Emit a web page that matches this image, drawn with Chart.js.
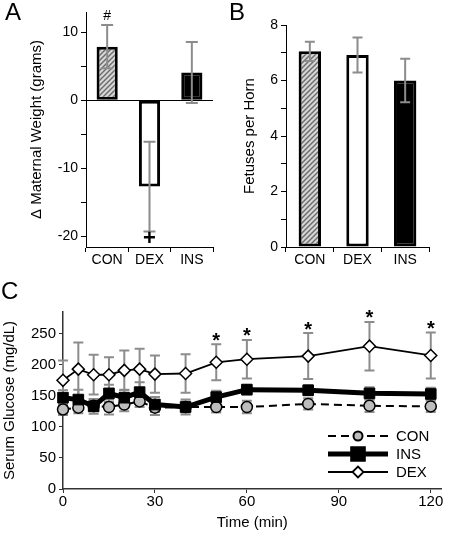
<!DOCTYPE html>
<html>
<head>
<meta charset="utf-8">
<script src="https://cdn.jsdelivr.net/npm/chart.js@4"></script>
<style>
body { margin: 0; background: #fff; }
#wrap { position: relative; width: 450px; height: 533px; }
canvas { position: absolute; }
.lbl { position: absolute; font: 24px "Liberation Sans", Arial, sans-serif; line-height: 24px; color: #000; }
</style>
</head>
<body>
<div id="wrap">
	<canvas id="chartA" width="225" height="270" style="left:0;top:0"></canvas>
	<canvas id="chartB" width="225" height="270" style="left:225px;top:0"></canvas>
	<canvas id="chartC" width="450" height="253" style="left:0;top:280px"></canvas>
	<div class="lbl" style="left:5px;top:0">A</div>
	<div class="lbl" style="left:229px;top:0">B</div>
	<div class="lbl" style="left:1px;top:279px">C</div>
</div>
<script>
// panel A + B
const groups = ['CON', 'DEX', 'INS'];
const weightChange = [7.9, -12.7, 4.1];
const weightErr = [3.2, 6.6, 4.5];
const weightMarks = ['#', '+', ''];
const fetuses = [7.05, 6.92, 6.0];
const fetusesErr = [0.35, 0.63, 0.78];

// panel C
const times = [0, 5, 10, 15, 20, 25, 30, 40, 50, 60, 80, 100, 120];
const glucoseCon = [128, 131, 134, 132, 136, 141, 131, 132, 132, 132, 137, 134, 133];
const glucoseConErr = [9, 9, 8, 12, 11, 9, 12, 9, 9, 10, 9, 10, 9];
const glucoseIns = [147, 144, 133, 154, 147, 156, 136, 132, 148, 160, 159, 154, 153];
const glucoseInsErr = [12, 16, 12, 14, 13, 16, 12, 12, 10, 8, 8, 10, 10];
const glucoseDex = [175, 193, 184, 184, 191, 193, 185, 186, 204, 209, 214, 230, 215];
const glucoseDexErr = [32, 43, 32, 28, 32, 33, 30, 31, 29, 31, 37, 39, 37];
const glucoseMarks = ['', '', '', '', '', '', '', '', '*', '*', '*', '*', '*'];

Chart.defaults.font.family = '"Liberation Sans", Arial, sans-serif';
Chart.defaults.color = '#000';
Chart.defaults.animation = false;

function makeHatch() {
	const c = document.createElement('canvas');
	c.width = 5;
	c.height = 5;
	const g = c.getContext('2d');
	g.fillStyle = '#d6d6d6';
	g.fillRect(0, 0, 5, 5);
	g.strokeStyle = '#6a6a6a';
	g.lineWidth = 1.4;
	g.beginPath();
	g.moveTo(-1, 6); g.lineTo(6, -1);
	g.moveTo(-1, 1); g.lineTo(1, -1);
	g.moveTo(4, 6); g.lineTo(6, 4);
	g.stroke();
	return g.createPattern(c, 'repeat');
}

function valueOf(d) {
	return typeof d === 'object' ? d.y : d;
}

// error bars + significance marks, read from dataset.errors / dataset.marks
function drawErrors(chart) {
	const ctx = chart.ctx;
	const yScale = chart.scales.y;
	chart.data.datasets.forEach((ds, di) => {
		if (!ds.errors) return;
		const meta = chart.getDatasetMeta(di);
		ctx.save();
		ctx.strokeStyle = '#8c8c8c';
		ctx.lineWidth = ds.errorWidth || 2;
		const cap = ds.capWidth || 5;
		meta.data.forEach((el, i) => {
			const v = valueOf(ds.data[i]);
			const e = ds.errors[i];
			const top = yScale.getPixelForValue(v + e);
			const bot = yScale.getPixelForValue(v - e);
			ctx.beginPath();
			ctx.moveTo(el.x, top); ctx.lineTo(el.x, bot);
			ctx.moveTo(el.x - cap, top); ctx.lineTo(el.x + cap, top);
			ctx.moveTo(el.x - cap, bot); ctx.lineTo(el.x + cap, bot);
			ctx.stroke();
		});
		ctx.restore();
	});
}

function drawMarks(chart) {
	const ctx = chart.ctx;
	const yScale = chart.scales.y;
	chart.data.datasets.forEach((ds, di) => {
		if (!ds.marks) return;
		const meta = chart.getDatasetMeta(di);
		ctx.save();
		ctx.fillStyle = '#000';
		ctx.textAlign = 'center';
		ctx.textBaseline = 'middle';
		meta.data.forEach((el, i) => {
			const m = ds.marks[i];
			if (!m) return;
			const v = valueOf(ds.data[i]);
			const e = ds.errors[i];
			if (m === '+') {
				ctx.font = 'bold 22px "Liberation Sans", Arial, sans-serif';
				ctx.fillText(m, el.x, yScale.getPixelForValue(v - e) + 8);
			} else if (m === '#') {
				ctx.font = '14px "Liberation Sans", Arial, sans-serif';
				ctx.fillText(m, el.x, yScale.getPixelForValue(v + e) - 9);
			} else {
				ctx.font = 'bold 20px "Liberation Sans", Arial, sans-serif';
				ctx.fillText(m, el.x, yScale.getPixelForValue(v + e) - 3);
			}
		});
		ctx.restore();
	});
}

const barExtras = {
	id: 'barExtras',
	afterDatasetsDraw(chart) {
		drawErrors(chart);
		drawMarks(chart);
	}
};

const lineExtras = {
	id: 'lineExtras',
	beforeDatasetsDraw(chart) {
		drawErrors(chart);
	},
	afterDatasetsDraw(chart) {
		drawMarks(chart);
	}
};

const legendOrder = ['CON', 'INS', 'DEX'];
const glucoseLegend = {
	id: 'glucoseLegend',
	afterDraw(chart) {
		const ctx = chart.ctx;
		legendOrder.forEach((name, row) => {
			const ds = chart.data.datasets.find(d => d.label === name);
			const y = 156 + row * 18;
			ctx.save();
			ctx.strokeStyle = '#000';
			ctx.lineWidth = ds.borderWidth;
			ctx.setLineDash(ds.borderDash || []);
			ctx.beginPath();
			ctx.moveTo(328, y);
			ctx.lineTo(388, y);
			ctx.stroke();
			ctx.setLineDash([]);
			ctx.fillStyle = ds.pointBackgroundColor;
			ctx.strokeStyle = ds.pointBorderColor;
			Chart.helpers.drawPoint(ctx, {
				pointStyle: ds.pointStyle,
				radius: ds.legendRadius,
				borderWidth: ds.pointBorderWidth,
				rotation: 0
			}, 358, y);
			ctx.fillStyle = '#000';
			ctx.font = '15px "Liberation Sans", Arial, sans-serif';
			ctx.textBaseline = 'middle';
			ctx.fillText(name, 396, y + 1);
			ctx.restore();
		});
	}
};

function catAxis(height) {
	return {
		grid: { offset: true, drawOnChartArea: false, color: '#000', tickLength: 5 },
		border: { color: '#000', width: 1 },
		ticks: { font: { size: 14 }, padding: 0 },
		afterFit: s => { s.height = height; }
	};
}

const chartA = new Chart(document.getElementById('chartA'), {
	type: 'bar',
	data: {
		labels: groups,
		datasets: [{
			data: weightChange,
			errors: weightErr,
			marks: weightMarks,
			capWidth: 6,
			backgroundColor: [makeHatch(), '#fff', '#000'],
			borderColor: '#000',
			borderWidth: 3,
			borderSkipped: false,
			barPercentage: 0.5,
			categoryPercentage: 1
		}]
	},
	options: {
		responsive: false,
		layout: { padding: { left: 24, top: 12, right: 12, bottom: 0 } },
		plugins: { legend: { display: false }, tooltip: { enabled: false } },
		scales: {
			x: catAxis(23),
			y: {
				min: -21.6,
				max: 13,
				afterFit: s => { s.width = 62; },
				ticks: {
					stepSize: 5,
					includeBounds: false,
					font: { size: 14 },
					padding: 3,
					callback: v => (v % 10 === 0 ? v : '')
				},
				grid: {
					color: c => (c.tick && c.tick.value === 0 ? '#000' : 'rgba(0,0,0,0)'),
					tickColor: '#000',
					tickLength: 5
				},
				border: { color: '#000' },
				title: { display: true, text: 'Δ Maternal Weight (grams)', font: { size: 15 }, padding: { top: 4, bottom: 0 } }
			}
		}
	},
	plugins: [barExtras]
});

const chartB = new Chart(document.getElementById('chartB'), {
	type: 'bar',
	data: {
		labels: groups,
		datasets: [{
			data: fetuses,
			errors: fetusesErr,
			capWidth: 5,
			backgroundColor: [makeHatch(), '#fff', '#000'],
			borderColor: '#000',
			borderWidth: 3,
			borderSkipped: false,
			barPercentage: 0.47,
			categoryPercentage: 1
		}]
	},
	options: {
		responsive: false,
		layout: { padding: { left: 12, top: 25, right: 21, bottom: 0 } },
		plugins: { legend: { display: false }, tooltip: { enabled: false } },
		scales: {
			x: catAxis(23),
			y: {
				min: 0,
				max: 8,
				afterFit: s => { s.width = 49; },
				ticks: {
					stepSize: 1,
					font: { size: 14 },
					padding: 3,
					callback: v => (v % 2 === 0 ? v : '')
				},
				grid: { drawOnChartArea: false, color: '#000', tickLength: 5 },
				border: { color: '#000' },
				title: { display: true, text: 'Fetuses per Horn', font: { size: 15 }, padding: { top: 4, bottom: 0 } }
			}
		}
	},
	plugins: [barExtras]
});

function pts(vals) {
	return times.map((t, i) => ({ x: t, y: vals[i] }));
}

const chartC = new Chart(document.getElementById('chartC'), {
	type: 'line',
	data: {
		datasets: [{
			label: 'DEX',
			data: pts(glucoseDex),
			errors: glucoseDexErr,
			marks: glucoseMarks,
			borderColor: '#000',
			borderWidth: 1.8,
			pointStyle: 'rectRot',
			pointRadius: 6,
			legendRadius: 5.5,
			pointBackgroundColor: '#fff',
			pointBorderColor: '#000',
			pointBorderWidth: 1.5,
			clip: false
		}, {
			label: 'INS',
			data: pts(glucoseIns),
			errors: glucoseInsErr,
			borderColor: '#000',
			borderWidth: 5,
			pointStyle: 'rect',
			pointRadius: 7.5,
			legendRadius: 7.5,
			pointBackgroundColor: '#000',
			pointBorderColor: '#000',
			pointBorderWidth: 1,
			clip: false
		}, {
			label: 'CON',
			data: pts(glucoseCon),
			errors: glucoseConErr,
			borderColor: '#000',
			borderWidth: 2,
			borderDash: [8, 5],
			pointStyle: 'circle',
			pointRadius: 5.5,
			legendRadius: 4.5,
			pointBackgroundColor: '#bdbdbd',
			pointBorderColor: '#000',
			pointBorderWidth: 1.5,
			clip: false
		}]
	},
	options: {
		responsive: false,
		layout: { padding: { left: 0, top: 32, right: 3, bottom: 0 } },
		plugins: { legend: { display: false }, tooltip: { enabled: false } },
		scales: {
			x: {
				type: 'linear',
				min: 0,
				max: 123.5,
				afterFit: s => { s.height = 44; },
				ticks: { stepSize: 30, includeBounds: false, font: { size: 15 }, padding: 0 },
				grid: { drawOnChartArea: false, color: '#333', tickLength: 4 },
				border: { color: '#333', width: 1.5 },
				title: { display: true, text: 'Time (min)', font: { size: 15 }, padding: { top: 0, bottom: 1 } }
			},
			y: {
				min: 0,
				max: 285,
				afterFit: s => { s.width = 63; },
				ticks: {
					stepSize: 25,
					includeBounds: false,
					font: { size: 15 },
					padding: 3,
					callback: v => (v % 50 === 0 ? v : '')
				},
				grid: { drawOnChartArea: false, color: '#333', tickLength: 4 },
				border: { color: '#333', width: 1.5 },
				title: { display: true, text: 'Serum Glucose (mg/dL)', font: { size: 15 }, padding: { top: 1, bottom: 0 } }
			}
		}
	},
	plugins: [lineExtras, glucoseLegend]
});
</script>
</body>
</html>
